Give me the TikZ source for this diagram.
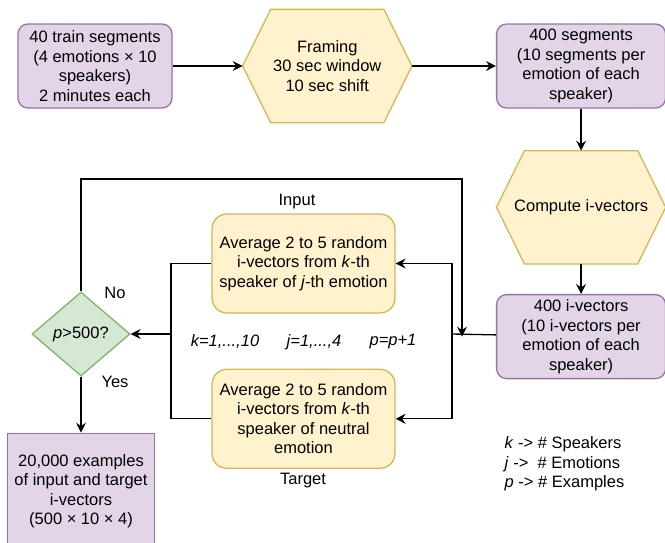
\documentclass[tikz,border=0pt]{standalone}
\usepackage{fontspec}
\setmainfont{Liberation Sans}
\usetikzlibrary{positioning,shapes.geometric,arrows.meta,backgrounds}
\definecolor{purplefill}{HTML}{E1D5E7}
\definecolor{purpleline}{HTML}{9673A6}
\definecolor{yellowfill}{HTML}{FFF2CC}
\definecolor{yellowline}{HTML}{D6B656}
\definecolor{greenfill}{HTML}{D5E8D4}
\definecolor{greenline}{HTML}{82B366}
\tikzset{
  every node/.style={font=\fontsize{16.5pt}{19.5pt}\selectfont, align=center, inner sep=2pt},
  purplebox/.style={draw=purpleline, fill=purplefill, rounded corners=10pt, line width=1.3pt, minimum height=84pt},
  yellowbox/.style={draw=yellowline, fill=yellowfill, rounded corners=15pt, line width=1.3pt, minimum width=183pt, minimum height=99pt},
  hexa/.style={minimum width=168pt, minimum height=112pt},
  hexline/.style={draw=yellowline, fill=yellowfill, line width=1.3pt},
  decision/.style={diamond, draw=greenline, fill=greenfill, line width=1.3pt, minimum width=98pt, minimum height=84pt, aspect=1.17},
}
\begin{document}
\begin{tikzpicture}[x=1pt, y=-1pt, line width=1.3pt, >={Stealth[length=10pt,width=10pt,inset=3.5pt]}]
  \useasboundingbox (0,0) rectangle (665,542);
  \node [purplebox, minimum width=154pt] (train) at (95,66) {40 train segments\\(4 emotions × 10\\speakers)\\2 minutes each};
  \node [hexa, right=70pt of train] (frame) {Framing\\30 sec window\\10 sec shift};
  \node [purplebox, minimum width=169pt, right=84pt of frame] (segs) {400 segments\\(10 segments per\\emotion of each\\speaker)};
  \node [hexa, below=42pt of segs] (comp) {Compute i-vectors};
  \node [purplebox, minimum width=169pt, below=30pt of comp] (ivec) {400 i-vectors\\(10 i-vectors per\\emotion of each\\speaker)};
  \node [yellowbox] (inp) at (303.5,263.5) {Average 2 to 5 random\\i-vectors from \textit{k}-th\\speaker of \textit{j}-th emotion};
  \node [yellowbox, below=55pt of inp] (tgt) {Average 2 to 5 random\\i-vectors from \textit{k}-th\\speaker of neutral\\emotion};
  \node [decision] (dec) at (81,334) {\textit{p}>500?};
  \node [draw=purpleline, fill=purplefill, line width=1.3pt, minimum width=147pt, minimum height=116pt, below=56pt of dec] (final) {20,000 examples\\of input and target\\i-vectors\\(500 × 10 × 4)};

  \begin{scope}[on background layer]
    \foreach \h in {frame,comp}
      \draw[hexline] ([xshift=28pt]\h.north west) -- ([xshift=-28pt]\h.north east) -- (\h.east)
        -- ([xshift=-28pt]\h.south east) -- ([xshift=28pt]\h.south west) -- (\h.west) -- cycle;
  \end{scope}

  \node (inlab) at (297,202) {Input};
  \node (tglab) at (303,481) {Target};
  \node (no) at (115,293) {No};
  \node (yes) at (115,382) {Yes};
  \node (kloop) at (225,342) {\textit{k=1,...,10}};
  \node (jloop) at (314,342) {\textit{j=1,...,4}};
  \node (ploop) at (393,342) {\textit{p=p+1}};
  \node [align=left, anchor=west] (legend) at (502,464) {\textit{k} -> \# Speakers\\\textit{j} ->~~\# Emotions\\\textit{p} -> \# Examples};

  \coordinate (split) at (452,334);
  \coordinate (join) at (171,334);
  \coordinate (loop) at (462,179);

  \draw[->] (train) -- (frame.west);
  \draw[->] (frame.east) -- (segs);
  \draw[->] (segs) -- (comp.north);
  \draw[->] (comp.south) -- (ivec);
  \draw (ivec) -- (split);
  \draw[->] (split) |- (inp);
  \draw[->] (split) |- (tgt);
  \draw (inp) -| (join);
  \draw (tgt) -| (join);
  \draw[->] (join) -- (dec);
  \draw[->] (dec) |- (loop) -- (loop |- ivec.west);
  \draw[->] (dec) -- (final);
\end{tikzpicture}
\end{document}
